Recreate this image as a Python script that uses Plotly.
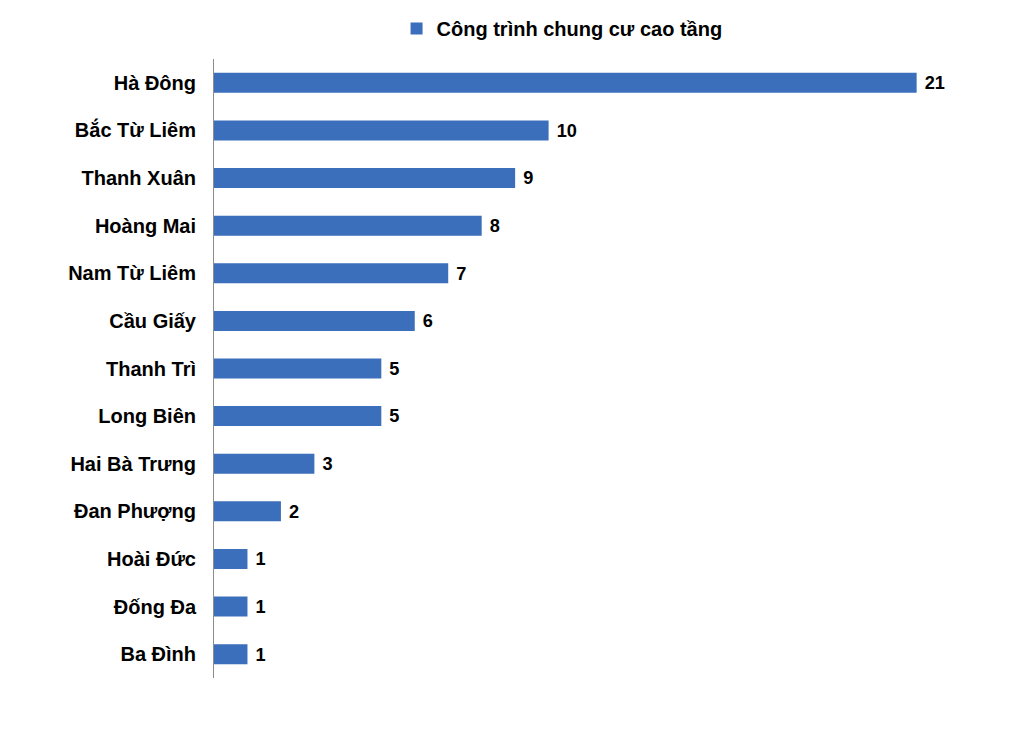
import plotly.graph_objects as go

# districts and number of high-rise apartment projects
districts = ["Hà Đông", "Bắc Từ Liêm", "Thanh Xuân", "Hoàng Mai", "Nam Từ Liêm",
             "Cầu Giấy", "Thanh Trì", "Long Biên", "Hai Bà Trưng", "Đan Phượng",
             "Hoài Đức", "Đống Đa", "Ba Đình"]
projects = [21, 10, 9, 8, 7, 6, 5, 5, 3, 2, 1, 1, 1]
series_name = "Công trình chung cư cao tầng"

FONT = "Liberation Sans, Arial, sans-serif"

fig = go.Figure()
fig.add_trace(go.Bar(
    y=districts, x=projects, orientation="h", name=series_name,
    marker=dict(color="#3b6ebb", line=dict(width=0)),
    text=projects, texttemplate="\u00a0%{x}", textposition="outside", cliponaxis=False,
    textfont=dict(family=FONT, size=20, color="black", weight="bold"),
    showlegend=True,
))

fig.update_xaxes(range=[0, 21.1], showgrid=False, zeroline=False,
                 showticklabels=False, showline=False)
fig.update_yaxes(autorange="reversed", showgrid=False, zeroline=False,
                 showline=True, linecolor="#8c8c8c", linewidth=1,
                 ticks="", ticklabelstandoff=13,
                 tickfont=dict(family=FONT, size=20, color="black", weight="bold"))
# body of the page adds 8px, so margins are trimmed by that amount
fig.update_layout(
    width=1010, height=730,
    margin=dict(l=206, r=98, t=51, b=60),
    plot_bgcolor="white", paper_bgcolor="white",
    bargap=0.58,
    font=dict(family=FONT, size=20, color="black"),
    legend=dict(orientation="h", x=0.493, xanchor="center",
                yref="container", y=0.972, yanchor="middle",
                font=dict(family=FONT, size=20, color="black", weight="bold")),
)
fig.write_html("out.html")
